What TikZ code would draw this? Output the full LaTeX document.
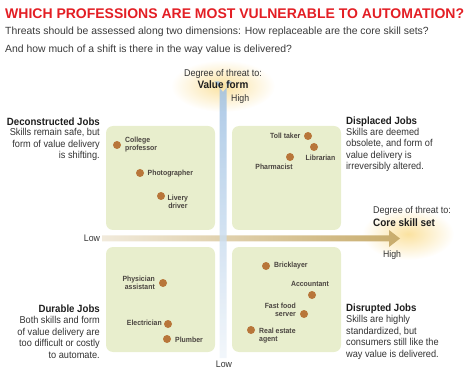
\documentclass[tikz,border=0pt]{standalone}
\usepackage{fontspec}
\setmainfont{Liberation Sans}
\newfontfamily\condf[FakeStretch=0.92]{Liberation Sans}
\definecolor{titlered}{HTML}{E31E24}
\definecolor{subgray}{HTML}{3A3A3A}
\definecolor{boxgreen}{HTML}{E8EECD}
\definecolor{dotbrown}{HTML}{B8763A}
\definecolor{labgray}{HTML}{4A4440}
\definecolor{headgray}{HTML}{1E1E1E}
\definecolor{bodygray}{HTML}{333333}
\definecolor{glowyellow}{HTML}{FBE2A0}
\definecolor{bluetop}{HTML}{9EC0E2}
\definecolor{bluebot}{HTML}{F0F5FA}
\definecolor{tanright}{HTML}{C8AC6C}
\definecolor{tanleft}{HTML}{F1EADB}
\begin{document}
\begin{tikzpicture}[x=1pt,y=-1pt,
  quad/.style={fill=boxgreen, rounded corners=7pt, inner sep=0pt, minimum width=109pt, minimum height=104pt},
  jdot/.style={circle, fill=dotbrown, inner sep=0pt, minimum size=8pt},
  jlab/.style={font=\condf\bfseries\fontsize{7.5}{8}\selectfont, text=labgray, inner sep=0pt},
  qhead/.style={font=\condf\bfseries\fontsize{10.5}{12}\selectfont, text=headgray, inner sep=0pt},
  qbody/.style={font=\condf\fontsize{10}{11.5}\selectfont, text=bodygray, inner sep=0pt},
  axlab/.style={font=\condf\fontsize{9.8}{11}\selectfont, text=bodygray, inner sep=0pt},
  axname/.style={font=\condf\bfseries\fontsize{10.8}{12}\selectfont, text=headgray, inner sep=0pt},
  hilo/.style={font=\condf\fontsize{9.5}{11}\selectfont, text=bodygray, inner sep=0pt},
  glow/.style={inner color=glowyellow, outer color=white}
]
\useasboundingbox (0,0) rectangle (476,387);

% title
\node[anchor=west, inner sep=0pt, text=titlered, font=\bfseries\fontsize{14}{16}\selectfont] (title) at (5,14) {WHICH PROFESSIONS ARE MOST VULNERABLE TO AUTOMATION?};
\node[anchor=west, inner sep=0pt, text=subgray, font=\fontsize{10.4}{12}\selectfont] (sub1) at (5,32) {Threats should be assessed along two dimensions: How replaceable are the core skill sets?};
\node[anchor=west, inner sep=0pt, text=subgray, font=\fontsize{10.4}{12}\selectfont] (sub2) at (5,49.5) {And how much of a shift is there in the way value is delivered?};

% glows
\shade[glow] (223,86) ellipse [x radius=52pt, y radius=26pt];
\shade[glow] (408,234) ellipse [x radius=46pt, y radius=26pt];

% quadrant boxes
\node[quad] (tl) at (160.5,178) {};
\node[quad] (tr) at (286.5,178) {};
\node[quad, minimum height=105pt] (bl) at (160.5,299.5) {};
\node[quad, minimum height=105pt] (br) at (286.5,299.5) {};

% axes
\coordinate (hstart) at (102,238.5);
\coordinate (htip) at (400,238.5);
\coordinate (vstart) at (223,358);
\coordinate (vtip) at (223,92);
\shade[left color=tanleft, right color=tanright]
  ([yshift=-3pt]hstart) -- ([xshift=-11pt,yshift=-3pt]htip) -- ([xshift=-11pt,yshift=-8.5pt]htip)
  -- (htip) -- ([xshift=-11pt,yshift=8.5pt]htip) -- ([xshift=-11pt,yshift=3pt]htip) -- ([yshift=3pt]hstart) -- cycle;
\shade[top color=bluetop, middle color=bluetop!80!bluebot, bottom color=bluebot, opacity=0.85]
  ([xshift=-3.5pt]vstart) -- ([xshift=-3.5pt,yshift=10.5pt]vtip) -- ([xshift=-8.5pt,yshift=10.5pt]vtip)
  -- (vtip) -- ([xshift=8.5pt,yshift=10.5pt]vtip) -- ([xshift=3.5pt,yshift=10.5pt]vtip) -- ([xshift=3.5pt]vstart) -- cycle;

% axis labels
\node[axlab] (vdeg) at (223,73.5) {Degree of threat to:};
\node[axname] (vname) at (223,84.5) {Value form};
\node[hilo, anchor=west] (vhigh) at (231,99) {High};
\node[hilo] (vlow) at (224,364) {Low};
\node[axlab, anchor=west] (hdeg) at (373,211) {Degree of threat to:};
\node[axname, anchor=west] (hname) at (373,222.5) {Core skill set};
\node[hilo] (hhigh) at (392,255) {High};
\node[hilo] (hlow) at (92,238) {Low};

% quadrant descriptions
\node[qhead, anchor=east] (dech) at (100,122) {Deconstructed Jobs};
\node[qbody, anchor=east, align=right] (decb) at (100,144.5) {Skills remain safe, but\\form of value delivery\\is shifting.};
\node[qhead, anchor=west] (disph) at (346,122) {Displaced Jobs};
\node[qbody, anchor=west, align=left] (dispb) at (346,150) {Skills are deemed\\obsolete, and form of\\value delivery is\\irreversibly altered.};
\node[qhead, anchor=east] (durh) at (100,309) {Durable Jobs};
\node[qbody, anchor=east, align=right] (durb) at (100,337.5) {Both skills and form\\of value delivery are\\too difficult or costly\\to automate.};
\node[qhead, anchor=west] (disrh) at (346,309) {Disrupted Jobs};
\node[qbody, anchor=west, align=left] (disrb) at (346,337.5) {Skills are highly\\standardized, but\\consumers still like the\\way value is delivered.};

% jobs: top-left
\node[jdot] (cp) at (117,145) {};
\node[jlab, anchor=west, align=left] (cpl) at (125,145) {College\\professor};
\node[jdot] (ph) at (140,173) {};
\node[jlab, anchor=west] (phl) at (147.5,174) {Photographer};
\node[jdot] (lv) at (161,196) {};
\node[jlab, anchor=west, align=center] (lvl) at (167.5,202) {Livery\\driver};
% top-right
\node[jdot] (tt) at (308,136) {};
\node[jlab, anchor=east] (ttl) at (300.5,136) {Toll taker};
\node[jdot] (lib) at (314,147) {};
\node[jlab] (libl) at (320.5,158) {Librarian};
\node[jdot] (phar) at (290,157) {};
\node[jlab] (pharl) at (274,167) {Pharmacist};
% bottom-left
\node[jdot] (pa) at (163,283) {};
\node[jlab, anchor=east, align=right] (pal) at (155,283) {Physician\\assistant};
\node[jdot] (el) at (168,324) {};
\node[jlab, anchor=east] (ell) at (162,323) {Electrician};
\node[jdot] (pl) at (167,339) {};
\node[jlab, anchor=west] (pll) at (175,340) {Plumber};
% bottom-right
\node[jdot] (bk) at (266,266) {};
\node[jlab, anchor=west] (bkl) at (274,266) {Bricklayer};
\node[jdot] (acc) at (312,295) {};
\node[jlab] (accl) at (310,284) {Accountant};
\node[jdot] (ffs) at (304,314) {};
\node[jlab, anchor=east, align=right] (ffsl) at (296,310) {Fast food\\server};
\node[jdot] (rea) at (251,330) {};
\node[jlab, anchor=west, align=left] (real) at (259,336) {Real estate\\agent};
\end{tikzpicture}
\end{document}
